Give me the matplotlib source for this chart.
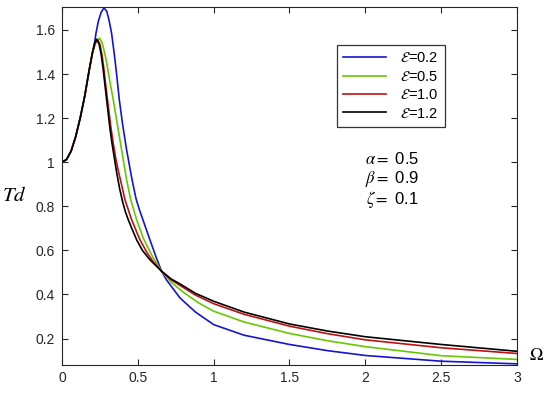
import matplotlib
matplotlib.use("Agg")
import matplotlib.pyplot as plt

plt.rcParams['font.family'] = ['Liberation Sans', 'DejaVu Sans']
plt.rcParams['mathtext.fontset'] = 'stix'

# rising branch shared by all curves
x_rise = [0, 0.03, 0.06, 0.09, 0.12, 0.15, 0.18]
y_rise = [1.0, 1.012, 1.05, 1.115, 1.20, 1.30, 1.42]

# eps = 0.2
x_b = [0.2, 0.215, 0.224, 0.24, 0.258, 0.277, 0.295, 0.31, 0.327, 0.345, 0.36, 0.378,
       0.4, 0.426, 0.462, 0.488, 0.51, 0.532, 0.576, 0.62, 0.657, 0.69, 0.778, 0.88,
       1.0, 1.2, 1.5, 1.75, 2.0, 2.5, 3.0]
y_b = [1.49, 1.54, 1.585, 1.64, 1.68, 1.70, 1.685, 1.645, 1.585, 1.49, 1.40, 1.283,
       1.17, 1.056, 0.92, 0.835, 0.785, 0.742, 0.655, 0.57, 0.505, 0.465, 0.384, 0.32,
       0.263, 0.215, 0.173, 0.145, 0.123, 0.097, 0.085]

# eps = 0.5
x_g = [0.2, 0.225, 0.248, 0.265, 0.28, 0.295, 0.305, 0.32, 0.338, 0.393, 0.426, 0.453,
       0.492, 0.536, 0.598, 0.657, 0.72, 0.8, 0.9, 1.0, 1.2, 1.5, 1.75, 2.0, 2.5, 3.0]
y_g = [1.495, 1.545, 1.563, 1.54, 1.50, 1.45, 1.41, 1.35, 1.283, 1.056, 0.92, 0.83,
       0.739, 0.655, 0.57, 0.505, 0.455, 0.41, 0.362, 0.324, 0.275, 0.223, 0.19,
       0.163, 0.122, 0.105]

# eps = 1.0
x_r = [0.2, 0.218, 0.235, 0.25, 0.263, 0.275, 0.29, 0.306, 0.322, 0.338, 0.355, 0.37,
       0.387, 0.415, 0.459, 0.514, 0.56, 0.6, 0.657, 0.72, 0.78, 0.88, 1.0, 1.2, 1.5,
       1.75, 2.0, 2.5, 3.0]
y_r = [1.495, 1.54, 1.555, 1.535, 1.49, 1.43, 1.34, 1.25, 1.16, 1.085, 1.015, 0.965,
       0.915, 0.83, 0.739, 0.648, 0.59, 0.55, 0.505, 0.466, 0.44, 0.397, 0.358, 0.31,
       0.256, 0.222, 0.194, 0.158, 0.132]

# eps = 1.2
x_k = [0.2, 0.215, 0.229, 0.245, 0.258, 0.27, 0.285, 0.3, 0.315, 0.33, 0.345, 0.36,
       0.38, 0.4, 0.418, 0.437, 0.46, 0.492, 0.53, 0.58, 0.657, 0.72, 0.78, 0.88, 1.0,
       1.2, 1.5, 1.75, 2.0, 2.5, 3.0]
y_k = [1.495, 1.54, 1.558, 1.535, 1.49, 1.43, 1.34, 1.25, 1.16, 1.085, 1.02, 0.955,
       0.88, 0.82, 0.775, 0.739, 0.70, 0.648, 0.60, 0.557, 0.505, 0.47, 0.447, 0.405,
       0.369, 0.32, 0.266, 0.234, 0.208, 0.173, 0.142]

series = [(x_b, y_b, '#1414d2', r'$\mathcal{E}$=0.2'),
          (x_g, y_g, '#66c800', r'$\mathcal{E}$=0.5'),
          (x_r, y_r, '#c01010', r'$\mathcal{E}$=1.0'),
          (x_k, y_k, 'black', r'$\mathcal{E}$=1.2')]

fig = plt.figure(figsize=(5.5, 3.96), dpi=100)
ax = fig.add_axes([0.1127, 0.0795, 0.8273, 0.9028])

for xs, ys, col, lab in series:
    ax.plot(x_rise + xs, y_rise + ys, color=col, lw=1.2, label=lab)

ax.set_xlim(0, 3)
ax.set_ylim(0.082, 1.704)
ax.set_xticks([0, 0.5, 1, 1.5, 2, 2.5, 3])
ax.set_xticklabels(['0', '0.5', '1', '1.5', '2', '2.5', '3'])
ax.set_yticks([0.2, 0.4, 0.6, 0.8, 1, 1.2, 1.4, 1.6])
ax.set_yticklabels(['0.2', '0.4', '0.6', '0.8', '1', '1.2', '1.4', '1.6'])
ax.tick_params(direction='in', top=True, right=True, length=4, width=0.8,
               labelsize=10, colors='#262626', pad=5)
for s in ax.spines.values():
    s.set_color('#262626')
    s.set_linewidth(0.8)

leg = ax.legend(loc='upper left', bbox_to_anchor=(0.604, 0.894), borderaxespad=0,
                fontsize=10.5, frameon=True, fancybox=False, edgecolor='black',
                handlelength=2.9, borderpad=0.45, labelspacing=0.3, handletextpad=1.0)
leg.get_frame().set_linewidth(0.9)

ax.text(2.18, 0.99, r'$\alpha =$ 0.5', fontsize=12, ha='center')
ax.text(2.18, 0.905, r'$\beta =$ 0.9', fontsize=12, ha='center')
ax.text(2.18, 0.81, r'$\zeta =$ 0.1', fontsize=12, ha='center')

ax.text(-0.132, 0.474, r'$Td$', transform=ax.transAxes, fontsize=15,
        ha='left', va='center')
ax.text(1.043, 0.024, r'$\Omega$', transform=ax.transAxes, fontsize=13,
        ha='center', va='center')

fig.savefig('out.png', dpi=100)
